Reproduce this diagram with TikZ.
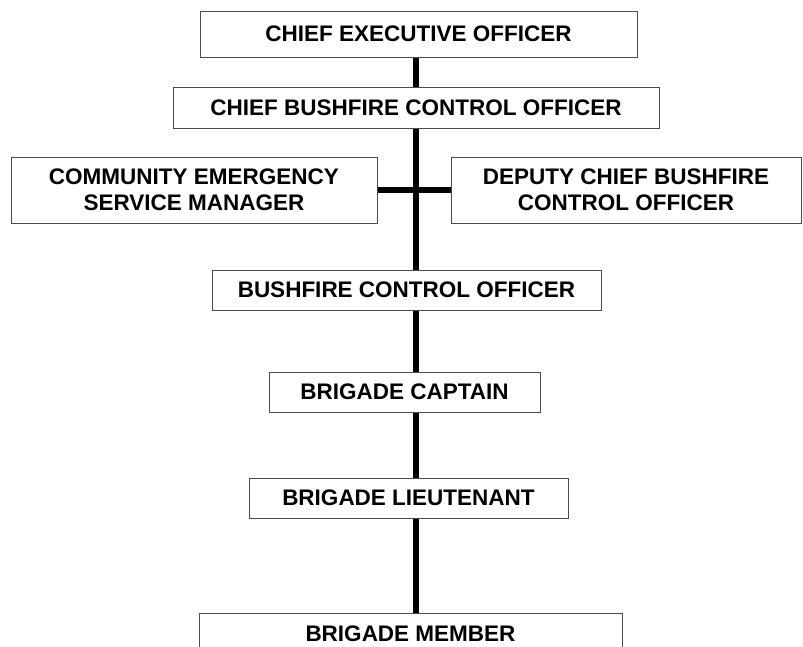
\documentclass[tikz,border=0pt]{standalone}
\usepackage{fontspec}
\setmainfont{Liberation Sans}

\begin{document}
\begin{tikzpicture}[x=1pt,y=-1pt]
	\tikzstyle{every node}=[font=\fontsize{22.5}{26}\selectfont\bfseries]
	\tikzstyle{post}=[draw=black!70, line width=1pt, fill=white, align=center, inner sep=0pt]
	\tikzstyle{link}=[line width=6pt, black]

	\useasboundingbox (0,0) rectangle (803,646);
	\clip (0,0) rectangle (803,646);

	%% posts
	\node [post, minimum width=437pt, minimum height=46pt] (ceo) at (418.5,34) {CHIEF EXECUTIVE OFFICER};
	\node [post, minimum width=486pt, minimum height=41pt] (cbco) at (416,107.5) {CHIEF BUSHFIRE CONTROL OFFICER};
	\node [post, minimum width=366pt, minimum height=66pt] (cesm) at (194,190) {COMMUNITY EMERGENCY\\SERVICE MANAGER};
	\node [post, minimum width=350pt, minimum height=66pt] (dcbco) at (626,190) {DEPUTY CHIEF BUSHFIRE\\CONTROL OFFICER};
	\node [post, minimum width=389pt, minimum height=40pt] (bco) at (406.5,290) {BUSHFIRE CONTROL OFFICER};
	\node [post, minimum width=271pt, minimum height=40pt] (capt) at (404.5,392) {BRIGADE CAPTAIN};
	\node [post, minimum width=319pt, minimum height=40pt] (lt) at (408.5,498) {BRIGADE LIEUTENANT};
	\node [post, minimum width=423pt, minimum height=42pt] (member) at (410.5,634) {BRIGADE MEMBER};

	%% lines
	\coordinate (spine) at (416,0);
	\draw [link] (ceo.south -| spine) -- (cbco.north -| spine);
	\draw [link] (cbco.south -| spine) -- (bco.north -| spine);
	\draw [link] (bco.south -| spine) -- (capt.north -| spine);
	\draw [link] (capt.south -| spine) -- (lt.north -| spine);
	\draw [link] (lt.south -| spine) -- (member.north -| spine);
	\draw [link] (cesm.east) -- (dcbco.west);

\end{tikzpicture}
\end{document}
